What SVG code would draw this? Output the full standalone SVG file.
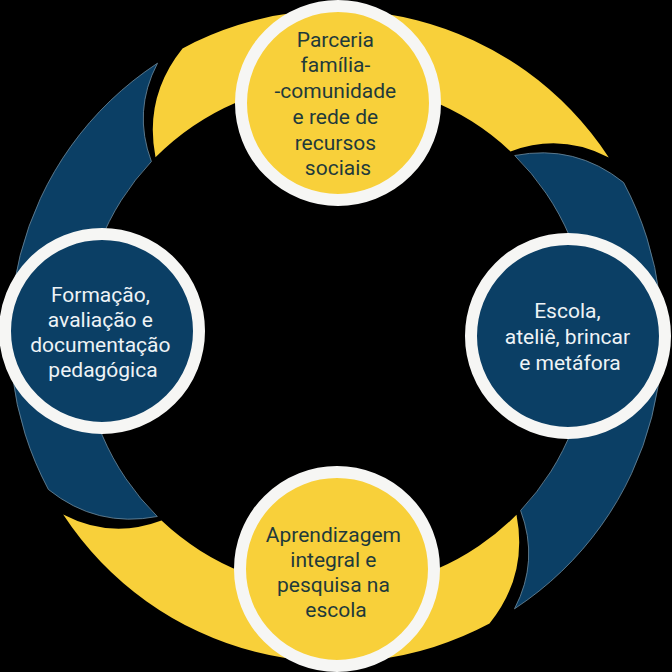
<svg xmlns="http://www.w3.org/2000/svg" xmlns:xlink="http://www.w3.org/1999/xlink" width="672" height="672" viewBox="0 0 672 672">
  <style>
    .yellow { fill: #F8D03A; }
    .blue { fill: #0B3F65; stroke: #6F8C9E; stroke-width: 0.8; }
    .ring { stroke: #F6F6F4; stroke-width: 12; }
    .ny { fill: #F8D03A; }
    .nb { fill: #0B3F65; }
    .lbl { font-family: Roboto, "Liberation Sans", Arial, sans-serif; font-size: 21px; text-anchor: middle; }
    .dark { fill: #1F3A3A; }
    .light { fill: #EEF3F6; }
  </style>
  <defs>
    <path id="seg" d="M 155.5 157.3 Q 143.8 96.6 182.5 48.4 A 326 326 0 0 1 608.8 157.5 Q 561 132.5 510.5 151.4 A 254 254 0 0 0 155.5 157.3 Z"/>
  </defs>
  <rect x="0" y="0" width="672" height="672" fill="#000000"/>
  <g id="connectors">
    <use xlink:href="#seg" href="#seg" class="yellow"/>
    <use xlink:href="#seg" href="#seg" class="blue" transform="rotate(90 336 336)"/>
    <use xlink:href="#seg" href="#seg" class="yellow" transform="rotate(180 336 336)"/>
    <use xlink:href="#seg" href="#seg" class="blue" transform="rotate(270 336 336)"/>
  </g>
  <g id="node-top">
    <circle cx="338" cy="103" r="97" class="ring ny"/>
    <text class="lbl dark" x="338" y="46.7">
      <tspan x="338" y="46.7">Parceria</tspan>
      <tspan x="338" y="72.4">família-</tspan>
      <tspan x="338" y="98.1">-comunidade</tspan>
      <tspan x="338" y="123.8">e rede de</tspan>
      <tspan x="338" y="149.5">recursos</tspan>
      <tspan x="338" y="175.2">sociais</tspan>
    </text>
  </g>
  <g id="node-right">
    <circle cx="568" cy="336" r="97" class="ring nb"/>
    <text class="lbl light">
      <tspan x="570" y="318">Escola,</tspan>
      <tspan x="570" y="344">ateliê, brincar</tspan>
      <tspan x="570" y="370">e metáfora</tspan>
    </text>
  </g>
  <g id="node-bottom">
    <circle cx="337" cy="569" r="97" class="ring ny"/>
    <text class="lbl dark">
      <tspan x="336" y="541.7">Aprendizagem</tspan>
      <tspan x="336" y="566.7">integral e</tspan>
      <tspan x="336" y="591.7">pesquisa na</tspan>
      <tspan x="336" y="616.7">escola</tspan>
    </text>
  </g>
  <g id="node-left">
    <circle cx="102" cy="331" r="97" class="ring nb"/>
    <text class="lbl light">
      <tspan x="103" y="301.7">Formação,</tspan>
      <tspan x="103" y="326.7">avaliação e</tspan>
      <tspan x="103" y="351.7">documentação</tspan>
      <tspan x="103" y="376.7">pedagógica</tspan>
    </text>
  </g>
</svg>
